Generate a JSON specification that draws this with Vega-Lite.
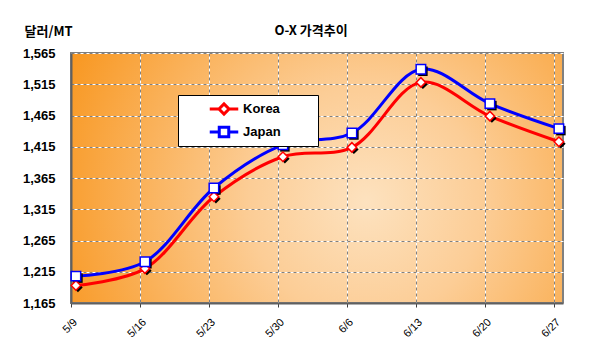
{
  "$schema": "https://vega.github.io/schema/vega-lite/v6.json",
  "width": 492,
  "height": 250,
  "autosize": "none",
  "padding": {"left": 71, "top": 53, "right": 31, "bottom": 60},
  "background": "white",
  "title": {
    "text": "O-X 가격추이",
    "font": "Noto Sans CJK KR",
    "fontSize": 13,
    "fontWeight": "bold",
    "color": "black",
    "anchor": "middle",
    "offset": 19,
    "dy": 32,
    "dx": -6
  },
  "config": {
    "view": {
      "stroke": "#808080",
      "strokeWidth": 2,
      "fill": {
        "gradient": "radial",
        "x1": 0.6, "y1": 0.55, "r1": 0,
        "x2": 0.6, "y2": 0.55, "r2": 0.68,
        "stops": [
          {"offset": 0, "color": "#fde2bf"},
          {"offset": 0.35, "color": "#fccd96"},
          {"offset": 1, "color": "#f8961e"}
        ]
      }
    }
  },
  "data": {
    "values": [
      {"date": "2025-05-09T12:00:00", "series": "Korea", "price": 1193},
      {"date": "2025-05-16T12:00:00", "series": "Korea", "price": 1220},
      {"date": "2025-05-23T12:00:00", "series": "Korea", "price": 1335},
      {"date": "2025-05-30T12:00:00", "series": "Korea", "price": 1399},
      {"date": "2025-06-06T12:00:00", "series": "Korea", "price": 1414},
      {"date": "2025-06-13T12:00:00", "series": "Korea", "price": 1518},
      {"date": "2025-06-20T12:00:00", "series": "Korea", "price": 1464},
      {"date": "2025-06-27T12:00:00", "series": "Korea", "price": 1423},
      {"date": "2025-05-09T12:00:00", "series": "Japan", "price": 1208},
      {"date": "2025-05-16T12:00:00", "series": "Japan", "price": 1231},
      {"date": "2025-05-23T12:00:00", "series": "Japan", "price": 1349},
      {"date": "2025-05-30T12:00:00", "series": "Japan", "price": 1418},
      {"date": "2025-06-06T12:00:00", "series": "Japan", "price": 1437},
      {"date": "2025-06-13T12:00:00", "series": "Japan", "price": 1539},
      {"date": "2025-06-20T12:00:00", "series": "Japan", "price": 1484},
      {"date": "2025-06-27T12:00:00", "series": "Japan", "price": 1444}
    ]
  },
  "encoding": {
    "x": {
      "field": "date",
      "type": "temporal",
      "axis": null,
      "scale": {
        "domain": [
          {"year": 2025, "month": 5, "date": 9},
          {"year": 2025, "month": 6, "date": 27, "hours": 22}
        ]
      }
    },
    "y": {
      "field": "price",
      "type": "quantitative",
      "axis": null,
      "scale": {"domain": [1165, 1565], "nice": false, "zero": false}
    }
  },
  "layer": [
    {
      "mark": {"type": "line", "interpolate": "catmull-rom", "strokeWidth": 3},
      "encoding": {
        "x": {
          "field": "date",
          "type": "temporal",
          "axis": {
            "title": null,
            "values": [
              {"year": 2025, "month": 5, "date": 9},
              {"year": 2025, "month": 5, "date": 16},
              {"year": 2025, "month": 5, "date": 23},
              {"year": 2025, "month": 5, "date": 30},
              {"year": 2025, "month": 6, "date": 6},
              {"year": 2025, "month": 6, "date": 13},
              {"year": 2025, "month": 6, "date": 20},
              {"year": 2025, "month": 6, "date": 27}
            ],
            "orient": "bottom",
            "format": "%-m/%-d",
            "labelAngle": -45,
            "labelFont": "Liberation Sans",
            "labelFontSize": 11,
            "labelColor": "black",
            "labelPadding": 9,
            "ticks": true,
            "tickSize": 4,
            "tickColor": "#404040",
            "domain": true,
            "domainColor": "#606060",
            "domainWidth": 2,
            "grid": true,
            "gridColor": "white",
            "gridOpacity": 1,
            "gridWidth": 1
          }
        },
        "y": {
          "field": "price",
          "type": "quantitative",
          "axis": {
            "title": "달러/MT",
            "orient": "left",
            "titleAngle": 0,
            "titleFont": "Noto Sans CJK KR",
            "titleFontSize": 13,
            "titleFontWeight": "bold",
            "titleColor": "black",
            "titleAlign": "left",
            "titleBaseline": "middle",
            "titleX": -47,
            "titleY": -22,
            "values": [1165, 1215, 1265, 1315, 1365, 1415, 1465, 1515, 1565],
            "format": ",d",
            "labelFont": "Liberation Sans",
            "labelFontSize": 13,
            "labelFontWeight": "bold",
            "labelColor": "black",
            "labelPadding": 16,
            "ticks": false,
            "domain": true,
            "domainColor": "#606060",
            "domainWidth": 2,
            "grid": true,
            "gridColor": "white",
            "gridOpacity": 1,
            "gridWidth": 1
          }
        },
        "stroke": {
          "field": "series",
          "type": "nominal",
          "scale": {"domain": ["Korea", "Japan"], "range": ["#ff0000", "#0000ff"]},
          "legend": {
            "title": "\u00a0",
            "titleOrient": "right",
            "titlePadding": 34,
            "titleFontSize": 10,
            "orient": "none",
            "legendX": 107,
            "legendY": 42,
            "fillColor": "white",
            "strokeColor": "black",
            "padding": 3,
            "symbolOffset": 32,
            "symbolSize": 361,
            "symbolStrokeWidth": 3,
            "rowPadding": -4,
            "labelOffset": 8,
            "labelFont": "Liberation Sans",
            "labelFontSize": 13,
            "labelFontWeight": "bold",
            "labelColor": "black",
            "encode": {
              "symbols": {
                "update": {
                  "shape": {"signal": "datum.value === 'Korea' ? 'M-1.5,0H-0.53M0.53,0H1.5M-0.53,0L0,-0.53L0.53,0L0,0.53Z' : 'M-1.5,0H-0.5M0.5,0H1.5M-0.5,-0.5H0.5V0.5H-0.5Z'"},
                  "fill": {"value": "white"},
                  "fillOpacity": {"value": 1}
                }
              }
            }
          }
        }
      }
    },
    {
      "transform": [{"filter": "datum.series === 'Korea'"}],
      "mark": {"type": "point", "shape": "diamond", "filled": true, "color": "black", "opacity": 1, "xOffset": 2, "yOffset": 2, "size": 90},
      "encoding": {
        "x": {
          "field": "date",
          "type": "temporal",
          "axis": {
            "title": null,
            "values": [
              {"year": 2025, "month": 5, "date": 9},
              {"year": 2025, "month": 5, "date": 16},
              {"year": 2025, "month": 5, "date": 23},
              {"year": 2025, "month": 5, "date": 30},
              {"year": 2025, "month": 6, "date": 6},
              {"year": 2025, "month": 6, "date": 13},
              {"year": 2025, "month": 6, "date": 20},
              {"year": 2025, "month": 6, "date": 27}
            ],
            "orient": "bottom",
            "labels": false,
            "ticks": false,
            "domain": false,
            "grid": true,
            "gridColor": "#808080",
            "gridOpacity": 1,
            "gridDash": [3, 3],
            "gridWidth": 1
          }
        },
        "y": {
          "field": "price",
          "type": "quantitative",
          "axis": {
            "title": null,
            "orient": "left",
            "values": [1165, 1215, 1265, 1315, 1365, 1415, 1465, 1515, 1565],
            "labels": false,
            "ticks": false,
            "domain": false,
            "grid": true,
            "gridColor": "#808080",
            "gridOpacity": 1,
            "gridDash": [3, 3],
            "gridWidth": 1
          }
        }
      }
    },
    {
      "transform": [{"filter": "datum.series === 'Japan'"}],
      "mark": {"type": "point", "shape": "square", "filled": true, "color": "black", "opacity": 1, "xOffset": 2, "yOffset": 2, "size": 90}
    },
    {
      "transform": [{"filter": "datum.series === 'Korea'"}],
      "mark": {"type": "point", "shape": "diamond", "filled": false, "fill": "white", "fillOpacity": 1, "opacity": 1, "strokeWidth": 1.5, "size": 90, "stroke": "#ff0000"}
    },
    {
      "transform": [{"filter": "datum.series === 'Japan'"}],
      "mark": {"type": "point", "shape": "square", "filled": false, "fill": "white", "fillOpacity": 1, "opacity": 1, "strokeWidth": 1.5, "size": 90, "stroke": "#0000ff"}
    }
  ],
  "resolve": {"axis": {"x": "independent", "y": "independent"}}
}
